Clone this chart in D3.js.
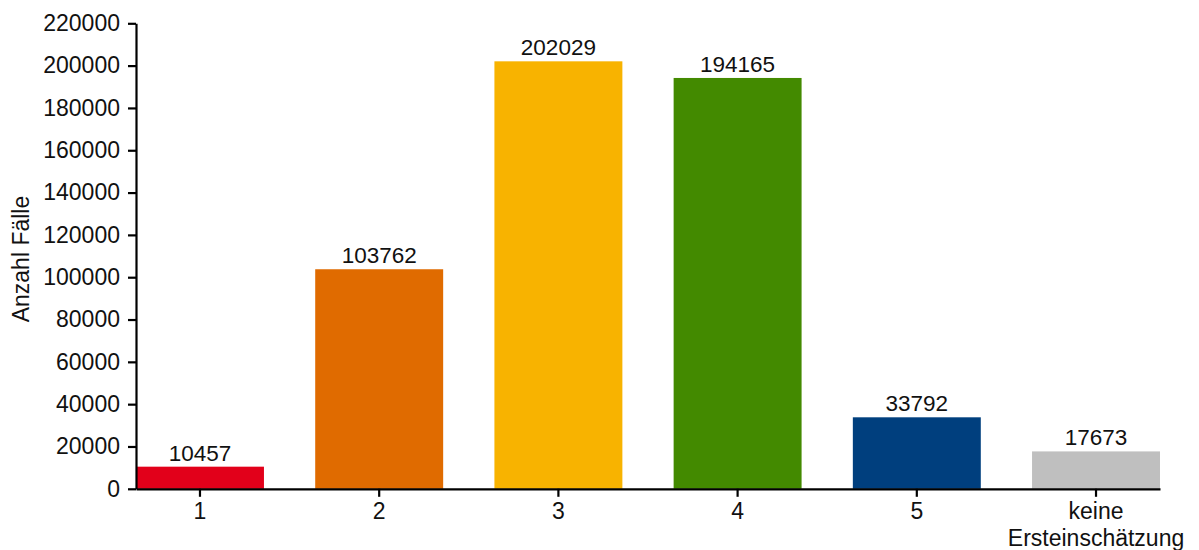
<!DOCTYPE html>
<html>
<head>
<meta charset="utf-8">
<script src="https://cdn.jsdelivr.net/npm/d3@7"></script>
<style>
  html, body { margin: 0; padding: 0; background: #fff; }
  svg { display: block; font-family: "Liberation Sans", Arial, Helvetica, sans-serif; }
</style>
</head>
<body>
<svg id="chart" width="1199" height="550"></svg>
<script>
const categories = ["1", "2", "3", "4", "5", "keine Ersteinschätzung"];
const values = [10457, 103762, 202029, 194165, 33792, 17673];
const colors = ["#E2001A", "#E06B00", "#F8B300", "#438A00", "#003F7E", "#BFBFBF"];
const yTicks = [0, 20000, 40000, 60000, 80000, 100000, 120000, 140000, 160000, 180000, 200000, 220000];
const yTitle = "Anzahl Fälle";

const svg = d3.select("#chart");
const mLeft = 136, mRight = 1160, mTop = 23.3, mBottom = 488.8;

const x = d3.scaleBand().domain(categories).range([mLeft, mRight]).paddingInner(0.286).paddingOuter(0);
const y = d3.scaleLinear().domain([0, 220000]).range([mBottom, mTop]);

// bars
svg.append("g").selectAll("rect").data(values).join("rect")
  .attr("x", (d, i) => x(categories[i]))
  .attr("width", x.bandwidth())
  .attr("y", d => y(d))
  .attr("height", d => y(0) - y(d))
  .attr("fill", (d, i) => colors[i]);

// value labels
svg.append("g").selectAll("text").data(values).join("text")
  .attr("x", (d, i) => x(categories[i]) + x.bandwidth() / 2)
  .attr("y", d => y(d) - 6)
  .attr("text-anchor", "middle")
  .attr("font-size", 22.5)
  .attr("fill", "#111")
  .text(d => d);

// y axis
const yAxis = svg.append("g").attr("transform", `translate(${mLeft},0)`)
  .call(d3.axisLeft(y).tickValues(yTicks).tickFormat(d3.format("d")).tickSize(8).tickSizeOuter(0).tickPadding(8));
yAxis.select(".domain").attr("stroke", "#000").attr("stroke-width", 2.2);
yAxis.selectAll(".tick line").attr("stroke", "#000").attr("stroke-width", 2.2);
yAxis.selectAll(".tick text").attr("font-size", 23).attr("fill", "#111").attr("font-family", "Liberation Sans, Arial, sans-serif");

// x axis
const xAxis = svg.append("g").attr("transform", `translate(0,${mBottom})`)
  .call(d3.axisBottom(x).tickSize(8).tickSizeOuter(0).tickPadding(6));
xAxis.select(".domain").attr("stroke", "#000").attr("stroke-width", 2.2);
xAxis.selectAll(".tick line").attr("stroke", "#000").attr("stroke-width", 2.2);
xAxis.selectAll(".tick text").attr("font-size", 23).attr("fill", "#111").attr("font-family", "Liberation Sans, Arial, sans-serif")
  .each(function(d) {
    const t = d3.select(this);
    const words = d.split(" ");
    if (words.length > 1) {
      t.text(null);
      words.forEach((w, i) => {
        t.append("tspan").attr("x", 0).attr("dy", i === 0 ? "0.71em" : "1.15em").text(w);
      });
    }
  });

// y title
svg.append("text")
  .attr("transform", `translate(29,${(mTop + mBottom) / 2 + 3}) rotate(-90)`)
  .attr("text-anchor", "middle")
  .attr("font-size", 23)
  .attr("fill", "#111")
  .text(yTitle);
</script>
</body>
</html>
